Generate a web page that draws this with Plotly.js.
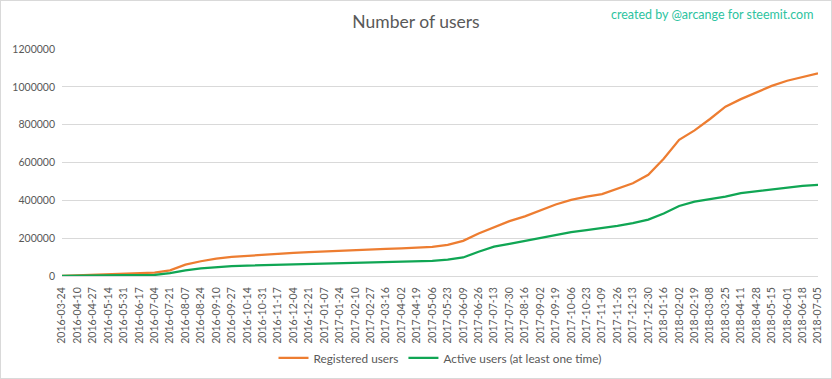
<!DOCTYPE html>
<html>
<head>
<meta charset="utf-8">
<script src="https://cdn.plot.ly/plotly-3.0.1.min.js"></script>
<style>
  html, body { margin: 0; padding: 0; background: #fff; }
  #chart { width: 830px; height: 377px; border: 1px solid #d9d9d9; }
</style>
</head>
<body>
<div id="chart"></div>
<script>
const dates = [
  "2016-03-24","2016-04-10","2016-04-27","2016-05-14","2016-05-31","2016-06-17","2016-07-04","2016-07-21",
  "2016-08-07","2016-08-24","2016-09-10","2016-09-27","2016-10-14","2016-10-31","2016-11-17","2016-12-04",
  "2016-12-21","2017-01-07","2017-01-24","2017-02-10","2017-02-27","2017-03-16","2017-04-02","2017-04-19",
  "2017-05-06","2017-05-23","2017-06-09","2017-06-26","2017-07-13","2017-07-30","2017-08-16","2017-09-02",
  "2017-09-19","2017-10-06","2017-10-23","2017-11-09","2017-11-26","2017-12-13","2017-12-30","2018-01-16",
  "2018-02-02","2018-02-19","2018-03-08","2018-03-25","2018-04-11","2018-04-28","2018-05-15","2018-06-01",
  "2018-06-18","2018-07-05"
];
const registeredUsers = [
  1000, 4000, 8000, 10000, 12000, 15000, 18000, 30000,
  60000, 78000, 92000, 101000, 107000, 113000, 118000, 122000,
  126000, 130000, 133000, 136000, 139000, 143000, 146000, 150000,
  154000, 165000, 186000, 225000, 258000, 290000, 315000, 348000,
  378000, 402000, 420000, 433000, 460000, 490000, 535000, 620000,
  720000, 770000, 830000, 895000, 935000, 968000, 1005000, 1032000,
  1052000, 1071000
];
const activeUsers = [
  0, 2000, 3000, 4000, 4500, 5000, 5500, 15000,
  30000, 40000, 48000, 52000, 55000, 57000, 59000, 61000,
  63000, 65000, 66000, 67000, 68000, 70000, 72000, 76000,
  80000, 86000, 98000, 128000, 155000, 170000, 185000, 203000,
  218000, 232000, 243000, 253000, 265000, 280000, 298000, 330000,
  370000, 393000, 405000, 420000, 438000, 448000, 458000, 468000,
  476000, 482000
];
const seriesNames = ["Registered users", "Active users (at least one time)"];
const yTicks = [0, 200000, 400000, 600000, 800000, 1000000, 1200000];

const FONT = "Lato, 'Open Sans', sans-serif";
const data = [
  { x: dates, y: registeredUsers, name: seriesNames[0], type: "scatter", mode: "lines",
    line: { color: "#ED7D31", width: 2.25 } },
  { x: dates, y: activeUsers, name: seriesNames[1], type: "scatter", mode: "lines",
    line: { color: "#10A654", width: 2.25 } }
];
const layout = {
  width: 830, height: 377,
  margin: { l: 61, r: 13, t: 48, b: 102, autoexpand: false },
  paper_bgcolor: "#fff", plot_bgcolor: "#fff",
  font: { family: FONT, color: "#595959", size: 10.5 },
  title: { text: "Number of users", x: 0.5, xref: "container", y: 0.944, yref: "container",
           yanchor: "middle", font: { family: FONT, size: 17.5, color: "#595959" } },
  showlegend: true,
  legend: { orientation: "h", x: 0.5, xanchor: "center", y: -0.361, yanchor: "middle",
            font: { family: FONT, size: 11.8, color: "#595959" } },
  xaxis: {
    type: "date", range: [dates[0], dates[dates.length - 1]],
    tick0: dates[0], dtick: 17 * 86400000, tickformat: "%Y-%m-%d", tickangle: -90,
    showgrid: false, showline: true, linecolor: "#d9d9d9", linewidth: 1,
    ticks: "", zeroline: false, automargin: false, ticklabelstandoff: 6,
    tickfont: { family: FONT, size: 10.5, color: "#595959" }
  },
  yaxis: {
    range: [0, 1200000], tickvals: yTicks, tickformat: "d",
    showgrid: true, gridcolor: "#d9d9d9", gridwidth: 1, zeroline: false, showline: false,
    ticks: "", automargin: false, ticklabelstandoff: 6,
    tickfont: { family: FONT, size: 10.5, color: "#595959" }
  },
  annotations: [{
    text: "created by @arcange for steemit.com", xref: "paper", yref: "paper",
    x: 0.996, xanchor: "right", y: 1.154, yanchor: "middle", showarrow: false,
    font: { family: FONT, size: 12.5, color: "#2DC3A0" }
  }],
  hovermode: false
};
Plotly.newPlot("chart", data, layout, { displayModeBar: false, staticPlot: true });
</script>
</body>
</html>
